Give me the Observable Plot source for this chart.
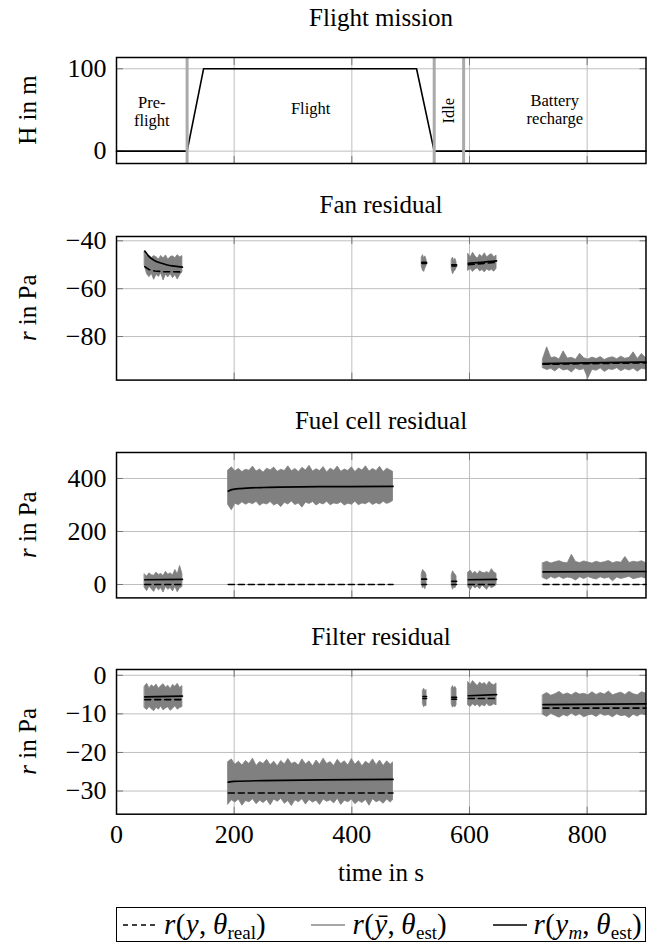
<!DOCTYPE html>
<html><head><meta charset="utf-8">
<script src="https://cdn.jsdelivr.net/npm/d3@7"></script>
<script src="https://cdn.jsdelivr.net/npm/@observablehq/plot@0.6"></script>
<style>
body{margin:0;background:#fff;font-family:"Liberation Serif","Times New Roman","DejaVu Serif",serif;color:#000}
#root{position:relative;width:649px;height:951px;overflow:hidden;font-family:"Liberation Serif","Times New Roman","DejaVu Serif",serif}
#root > svg{position:absolute;left:0;overflow:visible}
.title{position:absolute;left:116px;width:530px;text-align:center;font-size:25px;line-height:26px;white-space:nowrap;font-family:"Liberation Serif","Times New Roman","DejaVu Serif",serif}
#legend{position:absolute;left:116px;top:907px;width:530px;height:35px;box-sizing:border-box;border:1.4px solid #000;display:flex;align-items:center;justify-content:space-between;padding:0 3px 0 6px;font-family:"Liberation Serif","Times New Roman",serif}
.li{display:flex;align-items:center;font-size:29px;white-space:nowrap;line-height:1;letter-spacing:0.4px}
.li sub{font-size:19px;font-style:normal;vertical-align:-5px;line-height:0;letter-spacing:0}
.li svg{display:block}
</style></head><body><div id="root"></div>
<script>
// ---------- data ----------
const xTicks = [0, 200, 400, 600, 800];
const xGrid = [200, 400, 600, 800];

// Flight mission
const missionT = [0, 120, 148, 510, 540, 900];
const missionH = [0, 0, 100, 100, 0, 0];
const phaseBounds = [120, 540, 590];
const phaseNames = ["Pre-\nflight", "Flight", "Battery\nrecharge"];
const phaseMidT = [60, 330, 745];
const phaseLabelH = [49, 52, 51];
const idleLabel = "Idle";
const idleMidT = 565;
const missionTicks = [0, 100];

// Fan residual  [segment, t, low, high]
const fanTicks = [-40, -60, -80];
const fanGray = [
 ["A",48,-50.5,-44.8],["A",52,-54,-46.6],["A",56,-55.2,-46.2],["A",60,-53.8,-47.2],["A",64,-56.3,-46.4],["A",68,-54.2,-46.9],["A",72,-55.1,-47.8],["A",76,-53.6,-46.3],["A",80,-56.6,-47.4],["A",84,-54.1,-46.1],["A",88,-55.3,-47.9],["A",92,-53.9,-46.8],["A",96,-55.6,-46.5],["A",100,-54.3,-47.3],["A",104,-56.2,-46],["A",108,-54.4,-46.9],["A",112,-53.2,-46.4],
 ["B1",519,-51,-47],["B1",521,-52.5,-46],["B1",523,-53,-47.5],["B1",525,-51.5,-46.5],["B1",527,-50.5,-48],
 ["B2",570,-52,-48],["B2",572,-54,-47],["B2",574,-53,-48.5],["B2",576,-52.5,-47.5],["B2",578,-51.5,-49],
 ["D",598,-52.5,-45.5],["D",602,-51.8,-47],["D",606,-53,-45],["D",610,-52,-46.5],["D",614,-51.5,-47.5],["D",618,-52.8,-45.8],["D",622,-52.2,-46.8],["D",626,-53.2,-45.2],["D",630,-51.9,-47],["D",634,-52.6,-46],["D",638,-52.1,-45.6],["D",642,-52.9,-46.9],["D",646,-51.7,-46.2],
 ["E",725,-93.2,-89.5],["E",732,-94,-84.5],["E",739,-93.5,-89],["E",746,-94.6,-88.7],["E",753,-93.1,-89.6],["E",760,-94.2,-86.2],["E",767,-93.8,-89.2],["E",774,-95,-88.9],["E",781,-93.4,-89.7],["E",788,-94.1,-87.2],["E",795,-93.6,-89.1],["E",802,-97.5,-89.6],["E",809,-93.9,-88.8],["E",816,-94.3,-89.4],["E",823,-93.3,-88.6],["E",830,-94.8,-89.8],["E",837,-93.7,-89],["E",844,-94,-88.7],["E",851,-93.2,-89.5],["E",858,-94.5,-88.4],["E",865,-93.6,-89.3],["E",872,-94.2,-88.9],["E",879,-93.4,-86.6],["E",886,-94.7,-89.4],["E",893,-93.5,-87.3],["E",900,-93.8,-89]
];
const fanEst = [
 ["A",48,-44.3],["A",55,-46.5],["A",65,-48.3],["A",75,-49.3],["A",85,-50],["A",95,-50.5],["A",105,-50.8],["A",112,-51],
 ["B1",519,-49],["B1",527,-49],["B2",570,-50],["B2",578,-50],
 ["D",598,-49.4],["D",620,-49],["D",646,-48.4],
 ["E",725,-91.3],["E",800,-91],["E",900,-90.7]
];
const fanReal = [
 ["A",48,-50.8],["A",55,-52],["A",65,-52.6],["A",80,-52.9],["A",112,-53],
 ["B1",519,-49.5],["B1",527,-49.5],["B2",570,-50.5],["B2",578,-50.5],
 ["D",598,-50],["D",646,-49],
 ["E",725,-91.6],["E",900,-91]
];

// Fuel cell residual
const fuelTicks = [0, 200, 400];
const fuelGray = [
 ["A",48,-12,38],["A",52,-25,30],["A",56,-8,42],["A",60,-18,35],["A",64,-28,33],["A",68,-10,45],["A",72,-22,36],["A",76,-14,40],["A",80,-30,32],["A",84,-9,48],["A",88,-20,37],["A",92,-13,42],["A",96,-26,34],["A",100,-8,55],["A",104,-29,38],["A",108,-14,70],["A",112,-10,40],
 ["B",190,300,430],["B",196,280,442],["B",202,305,427],["B",208,299,436],["B",214,310,424],["B",220,301,433],["B",226,308,429],["B",232,303,445],["B",238,312,426],["B",244,297,434],["B",250,306,422],["B",256,302,437],["B",262,311,430],["B",268,298,441],["B",274,305,425],["B",280,292,433],["B",286,308,428],["B",292,302,446],["B",298,313,427],["B",304,300,436],["B",310,306,424],["B",316,290,440],["B",322,309,430],["B",328,304,448],["B",334,311,426],["B",340,298,435],["B",346,307,428],["B",352,302,443],["B",358,312,423],["B",364,299,437],["B",370,306,429],["B",376,303,445],["B",382,310,425],["B",388,298,434],["B",394,305,428],["B",400,301,442],["B",406,312,424],["B",412,299,438],["B",418,306,430],["B",424,303,446],["B",430,311,426],["B",436,300,436],["B",442,307,428],["B",448,302,444],["B",454,312,424],["B",460,304,437],["B",466,309,430],["B",470,315,425],
 ["B1",519,0,40],["B1",521,-15,55],["B1",523,-8,50],["B1",525,-18,45],["B1",527,2,35],
 ["B2",570,-5,35],["B2",572,-20,50],["B2",574,-10,42],["B2",576,-15,38],["B2",578,0,30],
 ["D",598,-10,45],["D",602,-22,52],["D",606,-5,40],["D",610,-15,48],["D",614,-8,38],["D",618,-18,50],["D",622,-4,44],["D",626,-12,42],["D",630,-20,47],["D",634,-6,41],["D",638,-14,58],["D",642,-9,46],["D",646,-3,40],
 ["E",725,25,80],["E",732,18,86],["E",739,28,79],["E",746,22,84],["E",753,29,88],["E",760,21,82],["E",767,26,80],["E",774,24,112],["E",781,15,85],["E",788,27,81],["E",795,21,87],["E",802,28,83],["E",809,23,79],["E",816,19,86],["E",823,27,81],["E",830,22,84],["E",837,26,89],["E",844,12,80],["E",851,26,85],["E",858,21,82],["E",865,25,104],["E",872,29,81],["E",879,20,86],["E",886,24,83],["E",893,27,88],["E",900,22,81]
];
const fuelEst = [
 ["A",48,18],["A",112,19],
 ["B",190,352],["B",196,358],["B",210,362],["B",250,366],["B",350,369],["B",470,370],
 ["B1",519,20],["B1",527,20],["B2",570,12],["B2",578,12],
 ["D",598,18],["D",646,19],
 ["E",725,48],["E",900,49]
];
const fuelReal = [
 ["A",48,0],["A",112,0],["B",190,0],["B",470,0],
 ["B1",519,0],["B1",527,0],["B2",570,0],["B2",578,0],
 ["D",598,0],["D",646,0],["E",725,0],["E",900,0]
];

// Filter residual
const filterTicks = [0, -10, -20, -30];
const filterGray = [
 ["A",48,-8.5,-3],["A",52,-9,-2.2],["A",56,-8.2,-3.4],["A",60,-8.8,-2.6],["A",64,-9.3,-3.1],["A",68,-8.4,-2.4],["A",72,-8.9,-3.5],["A",76,-8.1,-2.8],["A",80,-9.1,-2.3],["A",84,-8.6,-3.2],["A",88,-8.3,-2.7],["A",92,-9.2,-3.6],["A",96,-8.7,-2.5],["A",100,-8,-3],["A",104,-8.9,-2.2],["A",108,-8.5,-3.3],["A",112,-8.2,-2.8],
 ["B",190,-33.5,-22.5],["B",196,-32.4,-21.8],["B",202,-33,-23.2],["B",208,-32.2,-22.4],["B",214,-33.8,-23.4],["B",220,-32.6,-22.2],["B",226,-32.9,-23],["B",232,-32.1,-21.6],["B",238,-33.4,-23.5],["B",244,-32.5,-22.5],["B",250,-33.1,-23],["B",256,-32.3,-21.9],["B",262,-33.7,-23.3],["B",268,-32.2,-22.4],["B",274,-32.8,-23.6],["B",280,-32,-22.2],["B",286,-33.3,-23.1],["B",292,-32.6,-21.7],["B",298,-33.9,-23],["B",304,-32.4,-22.6],["B",310,-32.9,-23.4],["B",316,-32.1,-21.8],["B",322,-33.5,-23.1],["B",328,-32.3,-22.3],["B",334,-33,-23.6],["B",340,-32.5,-22.1],["B",346,-33.6,-23.2],["B",352,-32.2,-21.6],["B",358,-32.8,-23],["B",364,-32.4,-22.5],["B",370,-33.2,-23.5],["B",376,-32,-21.9],["B",382,-33.6,-23],["B",388,-32.5,-22.3],["B",394,-32.9,-23.4],["B",400,-32.2,-21.7],["B",406,-33.4,-23.2],["B",412,-32.6,-22.2],["B",418,-33.1,-23.6],["B",424,-32.3,-22.4],["B",430,-33.8,-23.1],["B",436,-32.1,-21.8],["B",442,-32.9,-23.3],["B",448,-32.5,-22.1],["B",454,-33.3,-23.5],["B",460,-32.2,-22.3],["B",466,-33,-23.2],["B",470,-32.4,-22.6],
 ["B1",521,-7.5,-4],["B1",523,-8.3,-3.5],["B1",525,-7.8,-4.2],["B1",527,-8,-3.8],
 ["B2",570,-7.6,-3.4],["B2",572,-8.4,-2.8],["B2",574,-8,-3.5],["B2",576,-8.3,-3],["B2",578,-7.7,-3.6],
 ["D",598,-7.8,-1.8],["D",602,-8.2,-2.5],["D",606,-7.5,-1.5],["D",610,-8,-2.2],["D",614,-7.6,-2.8],["D",618,-8.3,-1.9],["D",622,-7.7,-2.4],["D",626,-8.1,-2],["D",630,-7.4,-2.7],["D",634,-8,-1.7],["D",638,-7.9,-2.3],["D",642,-7.5,-2.6],["D",646,-7.8,-2.1],
 ["E",725,-10.2,-5.2],["E",732,-10.8,-4.6],["E",739,-10,-5.3],["E",746,-10.5,-4.9],["E",753,-11,-4.3],["E",760,-10.3,-5.1],["E",767,-10.7,-4.7],["E",774,-9.9,-5.2],["E",781,-10.6,-4.5],["E",788,-10.1,-5],["E",795,-10.9,-4.8],["E",802,-10.4,-5.2],["E",809,-10.2,-4.4],["E",816,-10.8,-5.1],["E",823,-10,-4.6],["E",830,-10.5,-5],["E",837,-10.3,-4.2],["E",844,-10.9,-5.2],["E",851,-10.1,-4.8],["E",858,-10.6,-4.5],["E",865,-10.4,-5.1],["E",872,-11.1,-4.3],["E",879,-10.2,-4.9],["E",886,-10.7,-5.2],["E",893,-10,-4.4],["E",900,-10.4,-4.7]
];
const filterEst = [
 ["A",48,-5.6],["A",112,-5.4],
 ["B",190,-27.7],["B",200,-27.5],["B",250,-27.3],["B",350,-27.1],["B",470,-27],
 ["B1",521,-5.5],["B1",527,-5.5],["B2",570,-5.7],["B2",578,-5.7],
 ["D",598,-5.3],["D",646,-5],
 ["E",725,-7.6],["E",900,-7.4]
];
const filterReal = [
 ["A",48,-6.3],["A",112,-6.3],["B",190,-30.5],["B",470,-30.5],
 ["B1",521,-6],["B1",527,-6],["B2",570,-6.2],["B2",578,-6.2],
 ["D",598,-6],["D",646,-6],["E",725,-8.5],["E",900,-8.5]
];

// legend entries
const legendDash = ["5,4", null, null];
const legendColor = ["#000", "#888", "#000"];
const legendHtml = [
  '<i>r</i>(<i>y</i>,&#8201;<i>θ</i><sub>real</sub>)',
  '<i>r</i>(<i>ȳ</i>,&#8201;<i>θ</i><sub>est</sub>)',
  '<i>r</i>(<i>y</i><sub style="font-style:italic">m</sub>,&#8201;<i>θ</i><sub>est</sub>)'
];

// ---------- layout / drawing ----------
const FONT = "Liberation Serif, Times New Roman, DejaVu Serif, serif";
const root = document.getElementById("root");
const ML = 116, MR = 3.5, W = 649, MT = 10;

function frameMarks(yTicks, withXText) {
  const m = [
    Plot.gridX(xGrid, {stroke: "#b8b8b8", strokeOpacity: 1, strokeWidth: 0.9}),
    Plot.gridY(yTicks, {stroke: "#b8b8b8", strokeOpacity: 1, strokeWidth: 0.9}),
    Plot.axisY(yTicks, {anchor: "left", tickSize: -7, tickFormat: () => "", stroke: "#777", label: null}),
    Plot.axisY(yTicks, {anchor: "right", tickSize: -7, tickFormat: () => "", stroke: "#777", label: null}),
    Plot.axisX(xGrid, {anchor: "bottom", tickSize: -7, tickFormat: () => "", stroke: "#777", label: null}),
    Plot.axisX(xGrid, {anchor: "top", tickSize: -7, tickFormat: () => "", stroke: "#777", label: null}),
    Plot.axisY(yTicks, {anchor: "left", tickSize: 0, tickPadding: 10, fontSize: 26, fontFamily: FONT, label: null,
      tickFormat: d => d < 0 ? "\u2212" + Math.abs(d) : String(d)})
  ];
  if (withXText) m.push(Plot.axisX(xTicks, {anchor: "bottom", tickSize: 0, tickPadding: 10, fontSize: 26, fontFamily: FONT, label: null}));
  return m;
}

function panel({frameTop, frameH, domain, yTicks, marks, title, titleY, ylabel, xText}) {
  const MB = xText ? 40 : 2;
  const chart = Plot.plot({
    width: W, height: MT + frameH + MB,
    marginLeft: ML, marginRight: MR, marginTop: MT, marginBottom: MB,
    style: {background: "transparent", overflow: "visible", fontFamily: FONT},
    x: {domain: [0, 900]},
    y: {domain},
    marks: [...frameMarks(yTicks, xText), ...marks, Plot.frame({stroke: "black", strokeWidth: 1.5})]
  });
  chart.style.top = (frameTop - MT) + "px";
  const svg = d3.select(chart);
  const t = svg.append("text")
    .attr("transform", `translate(27,${MT + frameH / 2}) rotate(-90)`)
    .attr("text-anchor", "middle").attr("dy", "0.35em")
    .attr("font-family", FONT).attr("font-size", 25).attr("fill", "black");
  ylabel.forEach(([s, it]) => t.append("tspan").attr("font-style", it ? "italic" : "normal").text(s));
  root.appendChild(chart);
  const d = document.createElement("div");
  d.className = "title"; d.textContent = title; d.style.top = (titleY - 13) + "px";
  root.appendChild(d);
}

function residualMarks(gray, real, est) {
  return [
    Plot.areaY(gray, {x: d => d[1], y1: d => d[2], y2: d => d[3], z: d => d[0], fill: "#808080", stroke: "#808080", strokeWidth: 0.8}),
    Plot.line(real, {x: d => d[1], y: d => d[2], z: d => d[0], stroke: "black", strokeWidth: 1.6, strokeDasharray: "6,4"}),
    Plot.line(est, {x: d => d[1], y: d => d[2], z: d => d[0], stroke: "black", strokeWidth: 1.7, curve: "monotone-x"})
  ];
}

const mission = missionT.map((t, i) => ({t, h: missionH[i]}));
const phaseLabels = phaseNames.map((n, i) => ({n, t: phaseMidT[i], h: phaseLabelH[i]}));

panel({
  frameTop: 57, frameH: 106, domain: [-15, 113.7], yTicks: missionTicks,
  title: "Flight mission", titleY: 18, ylabel: [["H in m", false]],
  marks: [
    Plot.line(mission, {x: "t", y: "h", stroke: "black", strokeWidth: 1.6}),
    Plot.ruleX(phaseBounds, {stroke: "#aaaaaa", strokeWidth: 3}),
    Plot.text(phaseLabels, {x: "t", y: "h", text: "n", fontSize: 16.5, fontFamily: FONT, lineHeight: 1.1, fill: "black"}),
    Plot.text([idleLabel], {x: idleMidT, y: 49, text: d => d, rotate: -90, fontSize: 16.5, fontFamily: FONT, fill: "black"})
  ]
});

panel({
  frameTop: 235.7, frameH: 143.6, domain: [-98.2, -38.2], yTicks: fanTicks,
  title: "Fan residual", titleY: 205, ylabel: [["r", true], [" in Pa", false]],
  marks: residualMarks(fanGray, fanReal, fanEst)
});

panel({
  frameTop: 452.3, frameH: 145.4, domain: [-50.5, 498], yTicks: fuelTicks,
  title: "Fuel cell residual", titleY: 421, ylabel: [["r", true], [" in Pa", false]],
  marks: residualMarks(fuelGray, fuelReal, fuelEst)
});

panel({
  frameTop: 669.3, frameH: 144.7, domain: [-36, 1.5], yTicks: filterTicks,
  title: "Filter residual", titleY: 637, ylabel: [["r", true], [" in Pa", false]],
  marks: residualMarks(filterGray, filterReal, filterEst), xText: true
});

// x label
const xl = document.createElement("div");
xl.className = "title"; xl.textContent = "time in s"; xl.style.top = (872.5 - 13) + "px";
root.appendChild(xl);

// legend
const lg = document.createElement("div"); lg.id = "legend";
legendHtml.forEach((h, i) => {
  const e = document.createElement("div"); e.className = "li";
  const dash = legendDash[i] ? `stroke-dasharray="${legendDash[i]}"` : "";
  e.innerHTML = `<svg width="34" height="10" style="margin-right:7px"><line x1="0" x2="34" y1="5" y2="5" stroke="${legendColor[i]}" stroke-width="1.6" ${dash}/></svg><span>${h}</span>`;
  lg.appendChild(e);
});
root.appendChild(lg);
</script></body></html>
